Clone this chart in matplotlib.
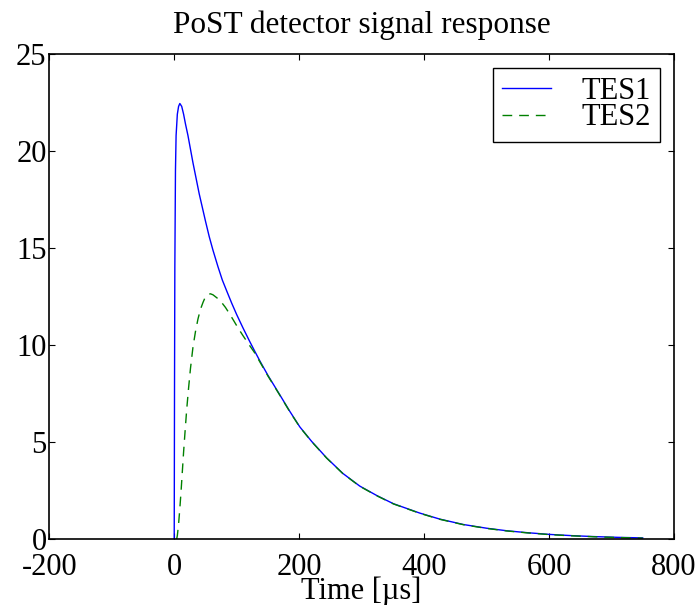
import matplotlib
matplotlib.use("Agg")
from matplotlib import pyplot as plt

plt.rcParams['font.family'] = ['Liberation Serif', 'DejaVu Serif']
plt.rcParams['axes.unicode_minus'] = False
plt.rcParams['font.size'] = 22

# values (time in us, signal)
tes1_t = [0, 0.5, 1, 2, 3, 5, 7, 9, 12, 15, 18, 22, 26, 30, 35, 40, 45, 50,
          56, 62, 70, 77, 85, 92, 100, 110, 120, 128, 137, 150, 169, 185,
          201, 220, 244, 270, 297, 325, 351, 393, 425, 463, 500, 532, 565,
          601, 635, 671, 710, 750]
tes1_y = [0, 8, 14, 19, 20.8, 21.9, 22.3, 22.45, 22.3, 21.9, 21.4, 20.8,
          20.1, 19.4, 18.6, 17.8, 17.1, 16.4, 15.6, 14.9, 14.05, 13.36,
          12.72, 12.17, 11.58, 10.9, 10.25, 9.75, 9.2, 8.45, 7.45, 6.6, 5.8,
          5.05, 4.2, 3.4, 2.75, 2.25, 1.84, 1.36, 1.05, 0.77, 0.58, 0.45,
          0.35, 0.26, 0.2, 0.15, 0.11, 0.08]

tes2_t = [3.8, 5, 7, 9, 11, 13, 15, 17, 20, 23, 26, 30, 34, 38, 42, 46, 50,
          54, 58, 62, 66, 70, 76, 82, 88, 95, 102, 110, 120, 128, 137, 150,
          169, 185, 201, 220, 244, 270, 297, 325, 351, 393, 425, 463, 500,
          532, 565, 601, 635, 671, 710, 750]
tes2_y = [0, 0.2, 0.8, 1.6, 2.5, 3.5, 4.5, 5.4, 6.7, 7.8, 8.8, 9.9, 10.7,
          11.35, 11.85, 12.2, 12.5, 12.62, 12.65, 12.6, 12.5, 12.4, 12.2,
          11.95, 11.65, 11.28, 10.9, 10.5, 10.02, 9.65, 9.15, 8.42, 7.43,
          6.58, 5.79, 5.04, 4.19, 3.39, 2.74, 2.24, 1.83, 1.35, 1.04, 0.76,
          0.57, 0.44, 0.34, 0.25, 0.19, 0.14, 0.1, 0.07]

xticks = [-200, 0, 200, 400, 600, 800]
yticks = [0, 5, 10, 15, 20, 25]

fig = plt.figure(figsize=(7, 6.05), dpi=100)
ax = fig.add_axes([0.0704, 0.1083, 0.8924, 0.8025])

ax.plot(tes1_t, tes1_y, color='#0000ff', lw=1, label='TES1')
ax.plot(tes2_t, tes2_y, color='#008000', lw=1, ls='--', dashes=(7, 5),
        label='TES2')

ax.set_xlim(-200, 800)
ax.set_ylim(0, 25)
ax.set_xticks(xticks)
ax.set_yticks(yticks)
ax.tick_params(direction='in', top=True, right=True, length=4, width=0.8,
               labelsize=22)
ax.tick_params(axis='x', pad=10)
ax.tick_params(axis='y', pad=2)
for s in ax.spines.values():
    s.set_linewidth(1.2)

ax.set_title('PoST detector signal response', fontsize=22.5, pad=15)
ax.set_xlabel('Time [µs]', fontsize=22, labelpad=-4)

leg = ax.legend(loc='upper right', fontsize=22, fancybox=False,
                edgecolor='black', framealpha=1, handlelength=1.6,
                handletextpad=1.0, labelspacing=-0.08, borderpad=0.3,
                borderaxespad=0.45)
leg.get_frame().set_linewidth(1.0)

fig.savefig('out.png', dpi=100)
